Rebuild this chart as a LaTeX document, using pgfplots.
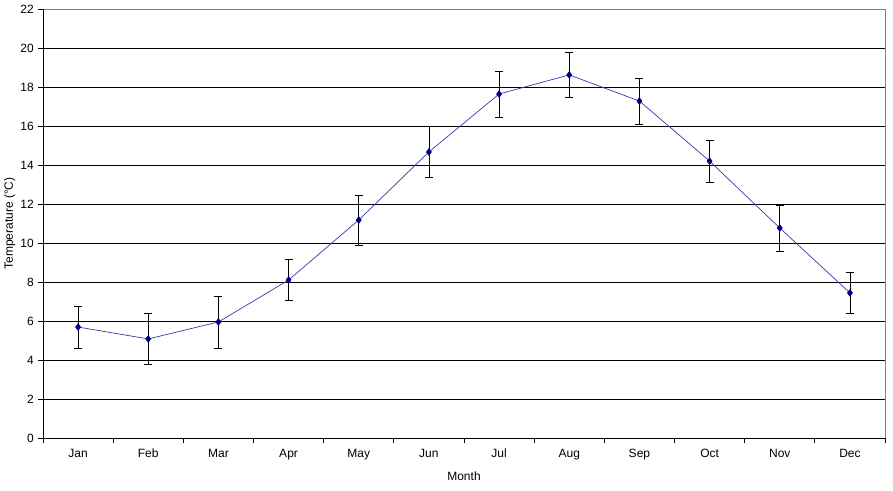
\documentclass[border=0pt]{standalone}
\usepackage{pgfplots}
\pgfplotsset{compat=1.18}
\usepackage{fontspec}
\setmainfont{Liberation Sans}
\definecolor{mk}{HTML}{000080}
\definecolor{ln}{HTML}{3838B0}
\begin{document}
\fontsize{12bp}{14bp}\selectfont
\begin{tikzpicture}
\useasboundingbox (0,0) rectangle (893bp,491bp);
\begin{axis}[
  at={(43bp,53bp)}, anchor=south west,
  scale only axis, width=842bp, height=429bp,
  xmin=-0.5, xmax=11.5, ymin=0, ymax=22,
  ytick={0,2,...,22},
  xtick={0,...,11},
  xticklabels={Jan,Feb,Mar,Apr,May,Jun,Jul,Aug,Sep,Oct,Nov,Dec},
  x tick style={draw=none},
  extra x ticks={-0.5,0.5,...,11.5},
  extra x tick labels={},
  extra x tick style={x tick style={draw=black, line width=0.8bp}, major tick length=5bp, tick align=outside, grid=none},
  y tick style={black, line width=0.8bp},
  major tick length=5bp,
  tick align=outside,
  tick pos=left,
  ymajorgrids,
  grid style={black, line width=0.8bp},
  axis line style={draw=none},
  /pgf/number format/assume math mode=true,
  ticklabel style={font=\fontsize{12bp}{14bp}\selectfont},
  xticklabel style={yshift=-2bp},
  xlabel={Month}, ylabel={Temperature (°C)},
  label style={font=\fontsize{12bp}{14bp}\selectfont},
  xlabel style={yshift=6bp},
  ylabel style={yshift=-3bp},
  clip=false,
]
\draw[gray, line width=0.8bp] (axis cs:-0.5,22) -- (axis cs:11.5,22) -- (axis cs:11.5,0);
\draw[black, line width=0.8bp] (axis cs:-0.5,22) -- (axis cs:-0.5,0) -- (axis cs:11.5,0);
\addplot[color=ln, line width=0.7bp, mark=diamond*, mark size=3.3bp,
  mark options={draw=mk, fill=mk},
  error bars/.cd, y dir=both, y explicit,
  error bar style={black, line width=0.8bp},
  error mark options={rotate=90, mark size=4bp, black, line width=0.8bp}]
table[x=x, y=y, y error=e] {
x y e
0 5.69 1.08
1 5.08 1.33
2 5.95 1.33
3 8.10 1.05
4 11.18 1.28
5 14.67 1.30
6 17.64 1.18
7 18.62 1.15
8 17.28 1.18
9 14.20 1.08
10 10.77 1.18
11 7.44 1.05
};
\end{axis}
\end{tikzpicture}
\end{document}
